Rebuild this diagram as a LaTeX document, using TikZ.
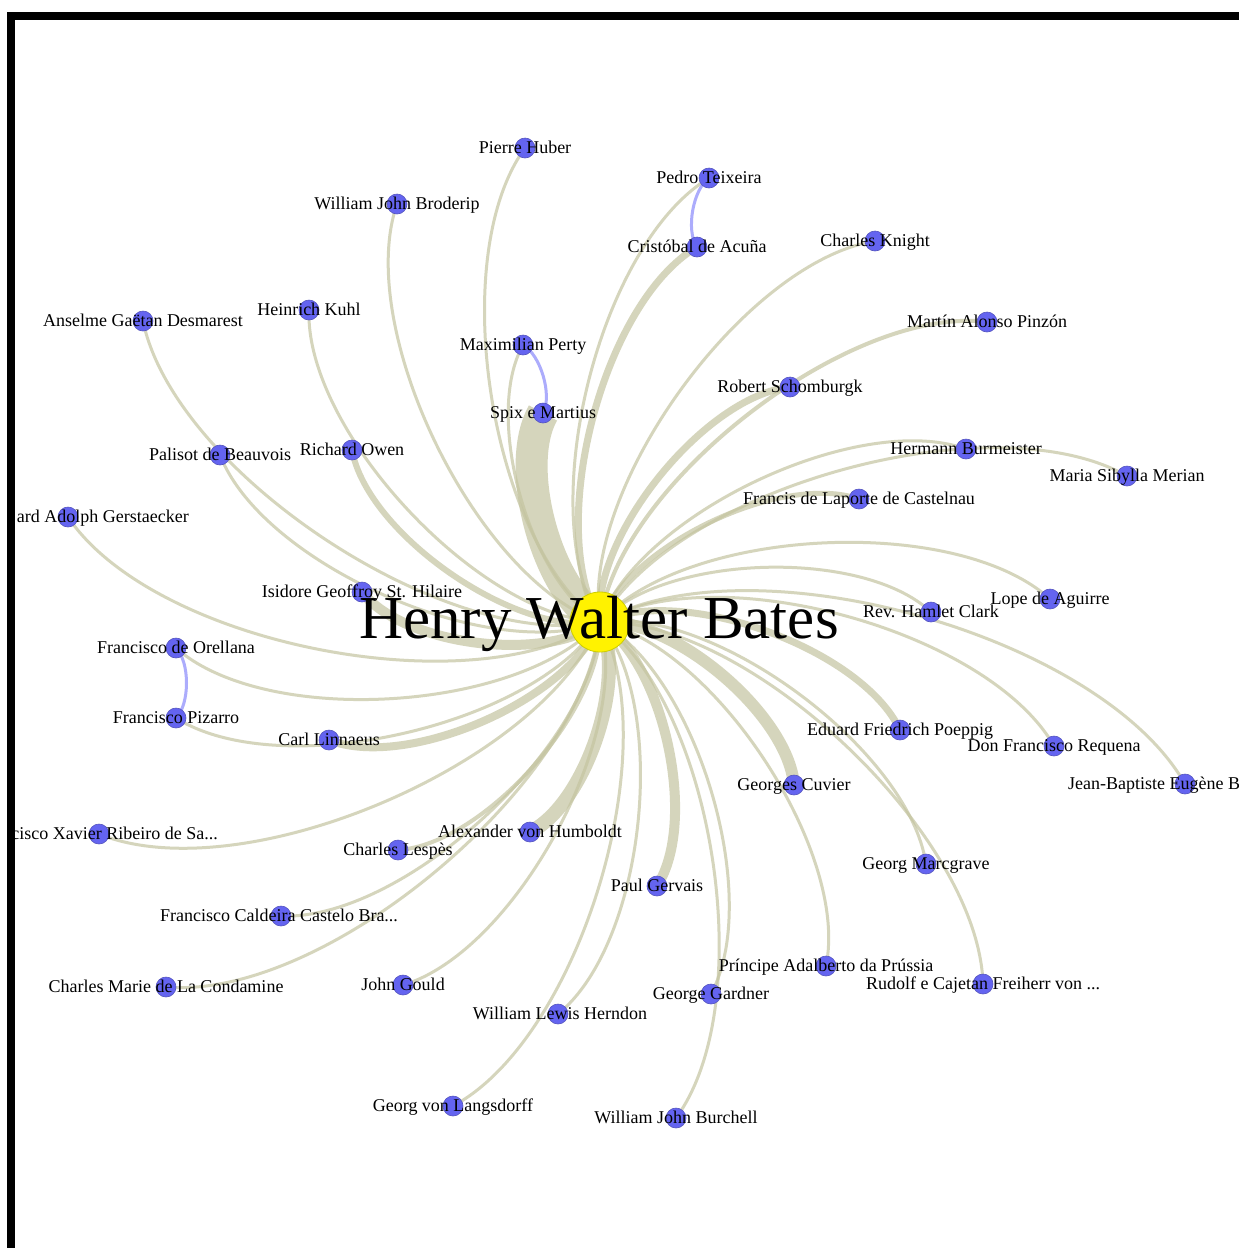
\documentclass[tikz,border=0pt]{standalone}
\usepackage{fontspec}
\setmainfont{Liberation Serif}
\usetikzlibrary{calc}
\pgfdeclarelayer{paper}
\pgfdeclarelayer{edges}
\pgfsetlayers{paper,edges,main}
\definecolor{edgecol}{RGB}{196,196,160}
\definecolor{nodeblue}{RGB}{100,100,240}
\definecolor{nodering}{RGB}{85,85,190}
\definecolor{pairblue}{RGB}{172,172,252}
\definecolor{hubring}{RGB}{205,205,0}
\tikzset{
  person/.style={circle, fill=nodeblue, draw=nodering, line width=0.6pt, minimum size=20pt, inner sep=0pt},
  hub/.style={circle, fill=yellow, draw=hubring, line width=0.8pt, minimum size=60pt, inner sep=0pt},
  tag/.style={font=\fontsize{18}{18}\selectfont, inner sep=0pt, anchor=base},
  bigtag/.style={font=\fontsize{61}{61}\selectfont, inner sep=0pt, anchor=base},
  spokeline/.style={draw=edgecol, draw opacity=0.7, line width=#1, line cap=butt},
  pairline/.style={draw=pairblue, line width=3pt},
}
% curved edge: cubic Bezier bent to the left of the source->target direction
\newcommand{\spoke}[3][3]{%
  \draw[spokeline=#1pt] (#2.center) .. controls ($(#2.center)!0.28284!45:(#3.center)$)
    and ($(#3.center)!0.28284!-45:(#2.center)$) .. (#3.center);}
\newcommand{\pairedge}[2]{%
  \draw[pairline] (#1.center) .. controls ($(#1.center)!0.28284!45:(#2.center)$)
    and ($(#2.center)!0.28284!-45:(#1.center)$) .. (#2.center);}
\begin{document}
\begin{tikzpicture}[x=1pt, y=-1pt]
\useasboundingbox (0,0) rectangle (1239,1248);
\begin{pgfonlayer}{paper}
\fill[white] (0,0) rectangle (1239,1248);
\end{pgfonlayer}
\clip (0,0) rectangle (1239,1248);

% people
\node[hub] (hwb) at (600,622) {};
\node[person] (huber) at (525,148) {};
\node[person] (broderip) at (397,204) {};
\node[person] (teixeira) at (709,178) {};
\node[person] (acuna) at (697,247) {};
\node[person] (knight) at (875,241) {};
\node[person] (desmarest) at (143,321) {};
\node[person] (kuhl) at (309,310) {};
\node[person] (perty) at (523,345) {};
\node[person] (spix) at (543,413) {};
\node[person] (schomburgk) at (790,387) {};
\node[person] (pinzon) at (987,322) {};
\node[person] (beauvois) at (220,455) {};
\node[person] (owen) at (352,450) {};
\node[person] (burmeister) at (966,449) {};
\node[person] (merian) at (1127,476) {};
\node[person] (castelnau) at (859,499) {};
\node[person] (gerstaecker) at (68,517) {};
\node[person] (isidore) at (362,592) {};
\node[person] (orellana) at (176,648) {};
\node[person] (pizarro) at (176,718) {};
\node[person] (linnaeus) at (329,740) {};
\node[person] (ribeiro) at (99,834) {};
\node[person] (humboldt) at (530,832) {};
\node[person] (lespes) at (398,850) {};
\node[person] (caldeira) at (281,916) {};
\node[person] (condamine) at (166,987) {};
\node[person] (gould) at (403,985) {};
\node[person] (herndon) at (558,1014) {};
\node[person] (langsdorff) at (453,1106) {};
\node[person] (gervais) at (657,886) {};
\node[person] (cuvier) at (794,785) {};
\node[person] (poeppig) at (900,730) {};
\node[person] (requena) at (1054,746) {};
\node[person] (eugene) at (1185,784) {};
\node[person] (marcgrave) at (926,864) {};
\node[person] (adalberto) at (826,966) {};
\node[person] (rudolf) at (983,984) {};
\node[person] (gardner) at (711,994) {};
\node[person] (burchell) at (676,1118) {};
\node[person] (clark) at (931,612) {};
\node[person] (aguirre) at (1050,599) {};

% edges
\begin{pgfonlayer}{edges}
\foreach \t/\w in {huber/3, broderip/3, teixeira/3, acuna/7, knight/3, desmarest/3,
  kuhl/3, perty/3, spix/32, schomburgk/7, pinzon/4, beauvois/3, owen/6, burmeister/3,
  merian/3, castelnau/5, gerstaecker/3, isidore/10, orellana/3, pizarro/3, linnaeus/8,
  ribeiro/3, humboldt/14, lespes/4, caldeira/3, condamine/3, gould/3, herndon/3,
  langsdorff/3, gervais/10, cuvier/12, poeppig/7, requena/3, eugene/3, marcgrave/3,
  adalberto/3, rudolf/3, gardner/3, burchell/3, clark/3, aguirre/3}
  {\spoke[\w]{hwb}{\t}}
\pairedge{acuna}{teixeira}
\pairedge{perty}{spix}
\pairedge{orellana}{pizarro}
\end{pgfonlayer}

% names
\node[tag] (huber-l) at ($(huber)+(0,5)$) {Pierre Huber};
\node[tag] (broderip-l) at ($(broderip)+(0,5)$) {William John Broderip};
\node[tag] (teixeira-l) at ($(teixeira)+(0,5)$) {Pedro Teixeira};
\node[tag] (acuna-l) at ($(acuna)+(0,5)$) {Cristóbal de Acuña};
\node[tag] (knight-l) at ($(knight)+(0,5)$) {Charles Knight};
\node[tag] (desmarest-l) at ($(desmarest)+(0,5)$) {Anselme Gaëtan Desmarest};
\node[tag] (kuhl-l) at ($(kuhl)+(0,5)$) {Heinrich Kuhl};
\node[tag] (perty-l) at ($(perty)+(0,5)$) {Maximilian Perty};
\node[tag] (spix-l) at ($(spix)+(0,5)$) {Spix e Martius};
\node[tag] (schomburgk-l) at ($(schomburgk)+(0,5)$) {Robert Schomburgk};
\node[tag] (pinzon-l) at ($(pinzon)+(0,5)$) {Martín Alonso Pinzón};
\node[tag] (beauvois-l) at ($(beauvois)+(0,5)$) {Palisot de Beauvois};
\node[tag] (owen-l) at ($(owen)+(0,5)$) {Richard Owen};
\node[tag] (burmeister-l) at ($(burmeister)+(0,5)$) {Hermann Burmeister};
\node[tag] (merian-l) at ($(merian)+(0,5)$) {Maria Sibylla Merian};
\node[tag] (castelnau-l) at ($(castelnau)+(0,5)$) {Francis de Laporte de Castelnau};
\node[tag, anchor=base east] (gerstaecker-l) at (189,522) {ard Adolph Gerstaecker};
\node[tag] (isidore-l) at ($(isidore)+(0,5)$) {Isidore Geoffroy St. Hilaire};
\node[tag] (orellana-l) at ($(orellana)+(0,5)$) {Francisco de Orellana};
\node[tag] (pizarro-l) at ($(pizarro)+(0,5)$) {Francisco Pizarro};
\node[tag] (linnaeus-l) at ($(linnaeus)+(0,5)$) {Carl Linnaeus};
\node[tag, anchor=base east] (ribeiro-l) at (218,839) {cisco Xavier Ribeiro de Sa...};
\node[tag] (humboldt-l) at ($(humboldt)+(0,5)$) {Alexander von Humboldt};
\node[tag] (lespes-l) at ($(lespes)+(0,5)$) {Charles Lespès};
\node[tag] (caldeira-l) at ($(caldeira)+(-2,5)$) {Francisco Caldeira Castelo Bra...};
\node[tag] (condamine-l) at ($(condamine)+(0,5)$) {Charles Marie de La Condamine};
\node[tag] (gould-l) at ($(gould)+(0,5)$) {John Gould};
\node[tag] (herndon-l) at ($(herndon)+(2,5)$) {William Lewis Herndon};
\node[tag] (langsdorff-l) at ($(langsdorff)+(0,5)$) {Georg von Langsdorff};
\node[tag] (gervais-l) at ($(gervais)+(0,5)$) {Paul Gervais};
\node[tag] (cuvier-l) at ($(cuvier)+(0,5)$) {Georges Cuvier};
\node[tag] (poeppig-l) at ($(poeppig)+(0,5)$) {Eduard Friedrich Poeppig};
\node[tag] (requena-l) at ($(requena)+(0,5)$) {Don Francisco Requena};
\node[tag, anchor=base west] (eugene-l) at (1068,789) {Jean-Baptiste Eugène B};
\node[tag] (marcgrave-l) at ($(marcgrave)+(0,5)$) {Georg Marcgrave};
\node[tag] (adalberto-l) at ($(adalberto)+(0,5)$) {Príncipe Adalberto da Prússia};
\node[tag] (rudolf-l) at ($(rudolf)+(0,5)$) {Rudolf e Cajetan Freiherr von ...};
\node[tag] (gardner-l) at ($(gardner)+(0,5)$) {George Gardner};
\node[tag] (burchell-l) at ($(burchell)+(0,5)$) {William John Burchell};
\node[tag] (clark-l) at ($(clark)+(0,5)$) {Rev. Hamlet Clark};
\node[tag] (aguirre-l) at ($(aguirre)+(0,5)$) {Lope de Aguirre};
\node[bigtag] (hwb-l) at ($(hwb)+(-1,16)$) {Henry Walter Bates};

% frame on the top and left sides
\draw[line width=8pt, line join=miter] (11,1270) -- (11,16) -- (1270,16);
\end{tikzpicture}
\end{document}
